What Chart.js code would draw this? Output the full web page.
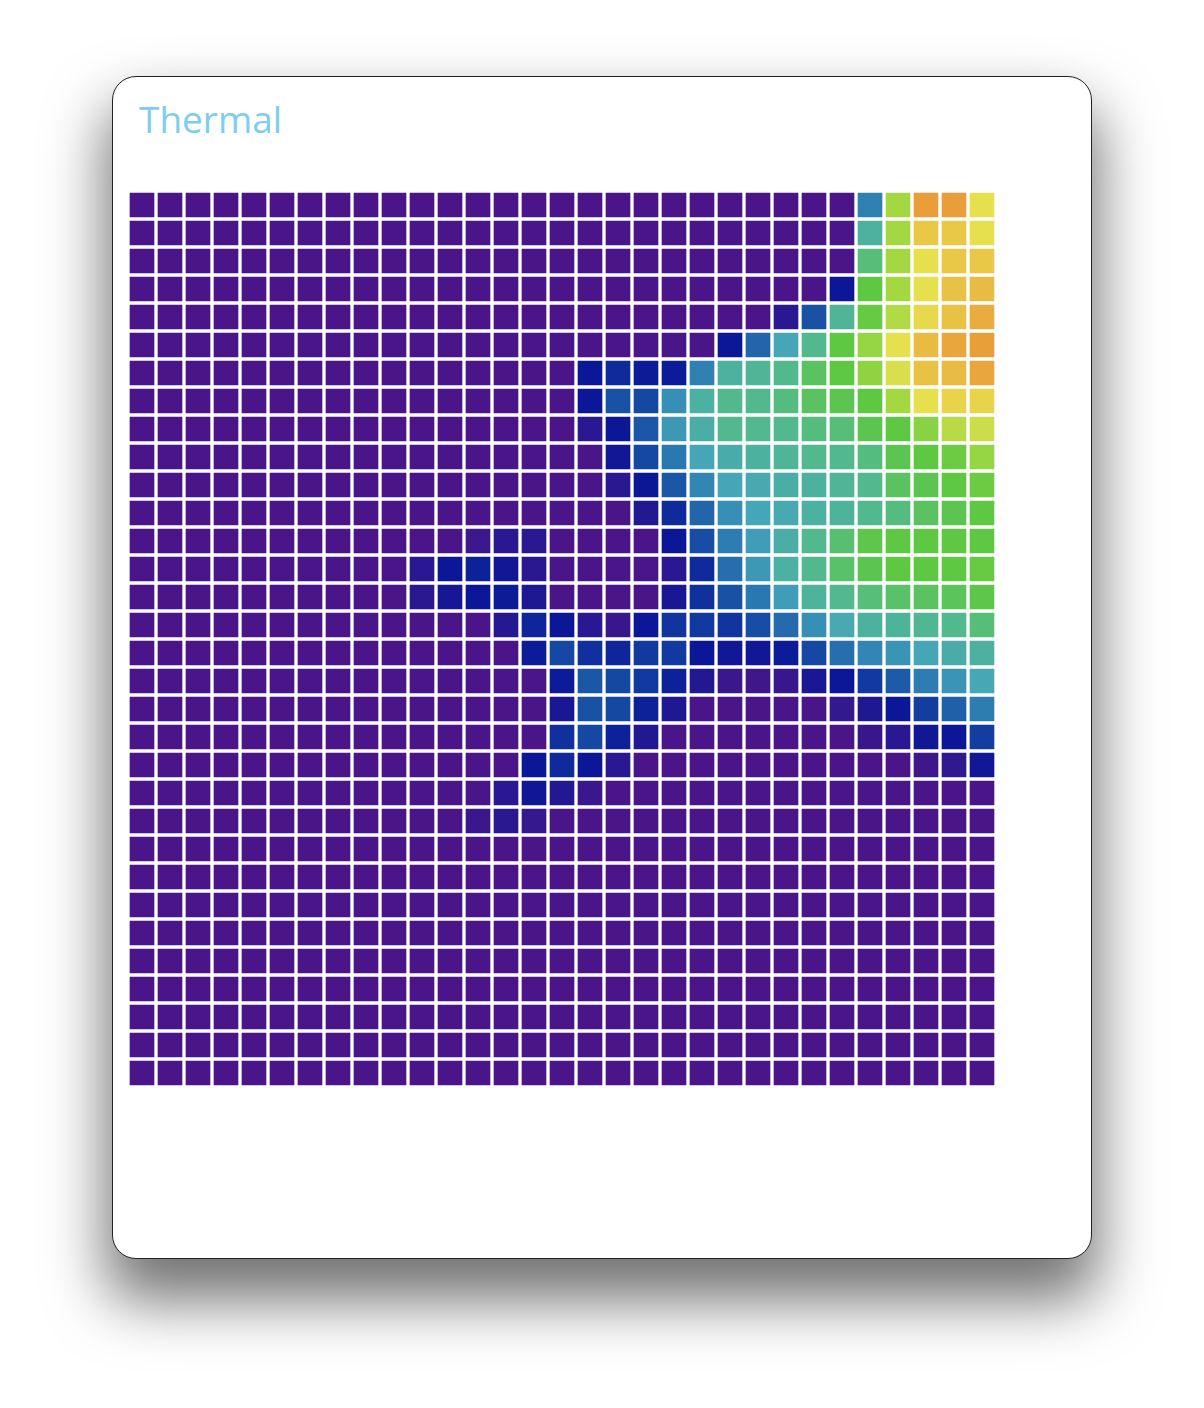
<!DOCTYPE html>
<html lang="en">
<head>
    <meta charset="UTF-8">
    <title>Thermal</title>
    <script src="https://cdn.jsdelivr.net/npm/chart.js"></script>
    <style>
        body {
            margin: 0;
            width: 1204px;
            height: 1408px;
            background: #fff;
            position: relative;
            font-family: "Open Sans", sans-serif;
        }
        .card {
            position: absolute;
            left: 112px;
            top: 76px;
            width: 978px;
            height: 1181px;
            border: 1px solid #222;
            border-radius: 24px;
            background: #fff;
            box-shadow: 0 36px 60px 6px rgba(0, 0, 0, 0.55);
        }
        h1 {
            position: absolute;
            left: 139px;
            top: 93px;
            margin: 0;
            font-size: 37px;
            font-weight: 400;
            color: #7fcdee;
        }
        .wrap {
            position: absolute;
            left: 128px;
            top: 191px;
            width: 868px;
            height: 896px;
        }
    </style>
</head>
<body>
    <div class="card"></div>
    <h1>Thermal</h1>
    <div class="wrap"><canvas id="thermalChart"></canvas></div>

    <script>
        // sensor readings, 0..100, one array per row (top to bottom), 31 columns
        const columns = Array.from({ length: 31 }, (_, i) => "C" + (i + 1));
        const readings = [
            [0,0,0,0,0,0,0,0,0,0,0,0,0,0,0,0,0,0,0,0,0,0,0,0,0,0,42,80,100,100,90],
            [0,0,0,0,0,0,0,0,0,0,0,0,0,0,0,0,0,0,0,0,0,0,0,0,0,0,56,80,94,94,90],
            [0,0,0,0,0,0,0,0,0,0,0,0,0,0,0,0,0,0,0,0,0,0,0,0,0,0,63,80,90,94,94],
            [0,0,0,0,0,0,0,0,0,0,0,0,0,0,0,0,0,0,0,0,0,0,0,0,0,20,70,80,90,95,96],
            [0,0,0,0,0,0,0,0,0,0,0,0,0,0,0,0,0,0,0,0,0,0,0,12,32,58,71,82,91,95,98],
            [0,0,0,0,0,0,0,0,0,0,0,0,0,0,0,0,0,0,0,0,0,20,36,50,60,70,78,90,96,99,100],
            [0,0,0,0,0,0,0,0,0,0,0,0,0,0,0,0,20,24,21,21,42,56,58,60,66,70,77,88,95,96,99],
            [0,0,0,0,0,0,0,0,0,0,0,0,0,0,0,0,20,32,30,45,55,60,60,62,66,68,70,80,90,92,92],
            [0,0,0,0,0,0,0,0,0,0,0,0,0,0,0,0,12,20,33,47,54,60,60,60,62,63,68,70,76,83,86],
            [0,0,0,0,0,0,0,0,0,0,0,0,0,0,0,0,0,18,30,40,50,53,56,58,60,60,62,68,70,72,78],
            [0,0,0,0,0,0,0,0,0,0,0,0,0,0,0,0,0,12,20,33,43,50,52,54,56,58,60,66,68,70,72],
            [0,0,0,0,0,0,0,0,0,0,0,0,0,0,0,0,0,0,14,24,36,45,50,52,55,57,60,62,66,68,70],
            [0,0,0,0,0,0,0,0,0,0,0,0,5,12,12,0,0,0,0,20,31,41,48,54,60,64,69,70,70,70,70],
            [0,0,0,0,0,0,0,0,0,0,12,20,22,18,12,0,0,0,0,12,24,38,47,55,60,65,68,70,70,70,71],
            [0,0,0,0,0,0,0,0,0,0,12,17,20,21,15,0,0,0,0,16,25,32,40,48,57,60,63,65,66,67,69],
            [0,0,0,0,0,0,0,0,0,0,0,0,0,13,23,20,12,7,20,26,27,26,31,37,45,52,56,57,59,60,63],
            [0,0,0,0,0,0,0,0,0,0,0,0,0,0,21,30,25,23,27,27,20,18,18,21,30,38,43,46,50,53,56],
            [0,0,0,0,0,0,0,0,0,0,0,0,0,0,0,21,33,30,27,22,14,6,4,7,16,20,27,34,41,46,51],
            [0,0,0,0,0,0,0,0,0,0,0,0,0,0,0,16,32,30,22,15,0,0,0,0,0,9,15,20,28,35,41],
            [0,0,0,0,0,0,0,0,0,0,0,0,0,0,0,25,30,22,14,0,0,0,0,0,0,0,7,12,18,20,28],
            [0,0,0,0,0,0,0,0,0,0,0,0,0,0,20,24,20,12,0,0,0,0,0,0,0,0,0,0,4,10,18],
            [0,0,0,0,0,0,0,0,0,0,0,0,0,12,19,14,6,0,0,0,0,0,0,0,0,0,0,0,0,0,0],
            [0,0,0,0,0,0,0,0,0,0,0,0,6,12,8,0,0,0,0,0,0,0,0,0,0,0,0,0,0,0,0],
            [0,0,0,0,0,0,0,0,0,0,0,0,0,0,0,0,0,0,0,0,0,0,0,0,0,0,0,0,0,0,0],
            [0,0,0,0,0,0,0,0,0,0,0,0,0,0,0,0,0,0,0,0,0,0,0,0,0,0,0,0,0,0,0],
            [0,0,0,0,0,0,0,0,0,0,0,0,0,0,0,0,0,0,0,0,0,0,0,0,0,0,0,0,0,0,0],
            [0,0,0,0,0,0,0,0,0,0,0,0,0,0,0,0,0,0,0,0,0,0,0,0,0,0,0,0,0,0,0],
            [0,0,0,0,0,0,0,0,0,0,0,0,0,0,0,0,0,0,0,0,0,0,0,0,0,0,0,0,0,0,0],
            [0,0,0,0,0,0,0,0,0,0,0,0,0,0,0,0,0,0,0,0,0,0,0,0,0,0,0,0,0,0,0],
            [0,0,0,0,0,0,0,0,0,0,0,0,0,0,0,0,0,0,0,0,0,0,0,0,0,0,0,0,0,0,0],
            [0,0,0,0,0,0,0,0,0,0,0,0,0,0,0,0,0,0,0,0,0,0,0,0,0,0,0,0,0,0,0],
            [0,0,0,0,0,0,0,0,0,0,0,0,0,0,0,0,0,0,0,0,0,0,0,0,0,0,0,0,0,0,0]
        ];

        // colour ramp: value -> rgb
        const stopValues = [0, 10, 20, 30, 40, 50, 60, 70, 80, 90, 95, 100];
        const stopColors = [
            [74, 21, 136], [48, 24, 143], [11, 23, 151], [21, 72, 162],
            [42, 120, 177], [69, 166, 184], [82, 185, 142], [95, 200, 67],
            [164, 216, 67], [230, 224, 78], [232, 194, 68], [232, 159, 58]
        ];

        function heatColor(v) {
            let i = 0;
            while (i < stopValues.length - 2 && v > stopValues[i + 1]) i++;
            const t = Math.min(1, Math.max(0, (v - stopValues[i]) / (stopValues[i + 1] - stopValues[i])));
            const a = stopColors[i], b = stopColors[i + 1];
            const c = a.map((x, k) => Math.round(x + (b[k] - x) * t));
            return `rgb(${c[0]},${c[1]},${c[2]})`;
        }

        const datasets = readings.map((row, r) => ({
            label: "row " + (r + 1),
            data: columns.map(() => [r, r + 1]),
            backgroundColor: row.map(heatColor),
            borderColor: "#ffffff",
            borderWidth: 2,
            borderSkipped: false,
            grouped: false,
            barPercentage: 1,
            categoryPercentage: 1
        }));

        new Chart(document.getElementById("thermalChart"), {
            type: "bar",
            data: { labels: columns, datasets: datasets },
            options: {
                responsive: true,
                maintainAspectRatio: false,
                animation: false,
                layout: { padding: 0 },
                plugins: { legend: { display: false }, tooltip: { enabled: false } },
                scales: {
                    x: { display: false },
                    y: { display: false, reverse: true, min: 0, max: readings.length }
                }
            }
        });
    </script>
</body>
</html>
